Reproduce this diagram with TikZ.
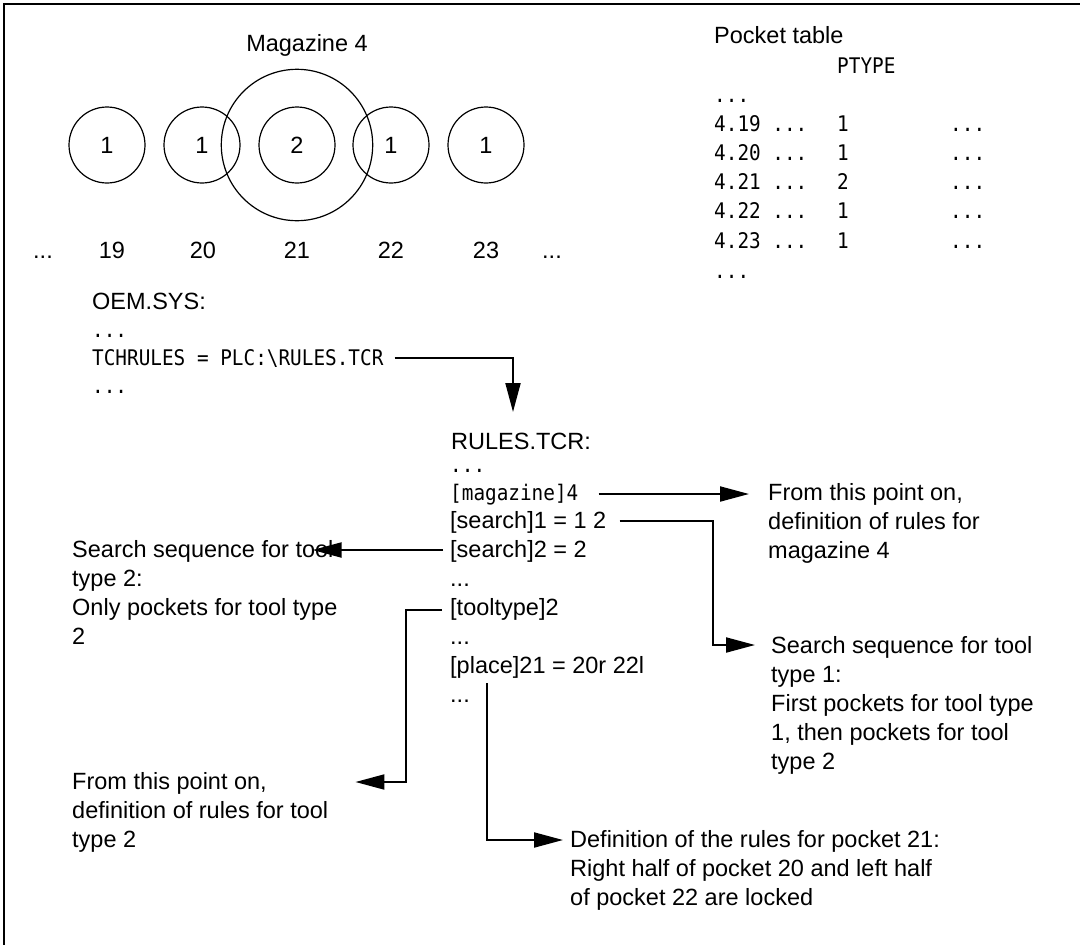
\documentclass[tikz,border=0pt]{standalone}
\usepackage{fontspec}
\setmainfont{Liberation Sans}
\newfontfamily\monof[FakeStretch=0.9]{DejaVu Sans Mono}
\usetikzlibrary{arrows.meta,calc}
\begin{document}
\begin{tikzpicture}[x=1pt,y=-1pt,
  sans/.style={font=\fontsize{23.5}{29}\selectfont, inner sep=0pt, anchor=base west},
  sansc/.style={font=\fontsize{23.5}{29}\selectfont, inner sep=0pt, anchor=base},
  mono/.style={font=\monof\fontsize{21.5}{29}\selectfont, inner sep=0pt, anchor=base west},
  pocket/.style={circle, draw, line width=1.2pt, minimum size=76pt, inner sep=0pt, font=\fontsize{23.5}{29}\selectfont},
  conn/.style={line width=2pt, line join=miter, -{Triangle[length=29pt,width=15pt]}},
]
\useasboundingbox (0,0) rectangle (1080,945);
\draw[line width=2.5pt] (4,945) -- (4,4) -- (1080,4);

% magazine
\node[sansc] (magt) at (307,51) {Magazine 4};
\node[circle, draw, line width=1.2pt, minimum size=151.4pt, inner sep=0pt] (big) at (297,145) {};
\node[pocket] (p19) at (107,145) {1};
\node[pocket] (p20) at (202,145) {1};
\node[pocket] (p21) at (297,145) {2};
\node[pocket] (p22) at (391,145) {1};
\node[pocket] (p23) at (486,145) {1};
\node[sansc] (nd1) at (43,258) {...};
\node[sansc] (n19) at (112,258) {19};
\node[sansc] (n20) at (203,258) {20};
\node[sansc] (n21) at (297,258) {21};
\node[sansc] (n22) at (391,258) {22};
\node[sansc] (n23) at (486,258) {23};
\node[sansc] (nd2) at (552,258) {...};

% pocket table
\node[sans] (ptab) at (714,43) {Pocket table};
\node[mono] (ptype) at (837,73) {PTYPE};
\node[mono] (pd0) at (714,102) {...};
\node[mono] (r19) at (714,131) {4.19 ...};
\node[mono] (t19) at (837,131) {1};
\node[mono] (e19) at (950,131) {...};
\node[mono] (r20) at (714,160) {4.20 ...};
\node[mono] (t20) at (837,160) {1};
\node[mono] (e20) at (950,160) {...};
\node[mono] (r21) at (714,189) {4.21 ...};
\node[mono] (t21) at (837,189) {2};
\node[mono] (e21) at (950,189) {...};
\node[mono] (r22) at (714,218) {4.22 ...};
\node[mono] (t22) at (837,218) {1};
\node[mono] (e22) at (950,218) {...};
\node[mono] (r23) at (714,248) {4.23 ...};
\node[mono] (t23) at (837,248) {1};
\node[mono] (e23) at (950,248) {...};
\node[mono] (pd1) at (714,278) {...};

% OEM.SYS
\node[sans] (oem) at (92,309) {OEM.SYS:};
\node[mono] (od1) at (92,337) {...};
\node[mono] (tch) at (92,365) {TCHRULES = PLC:\textbackslash RULES.TCR};
\node[mono] (od2) at (92,393) {...};

% RULES.TCR
\node[sans] (rules) at (451,449) {RULES.TCR:};
\node[mono] (rd1) at (450,472) {...};
\node[mono] (mag) at (450,500) {[magazine]4};
\node[sans] (s1) at (450,528) {[search]1 = 1 2};
\node[sans] (s2) at (450,557) {[search]2 = 2};
\node[sans] (rd2) at (450,586) {...};
\node[sans] (tt) at (450,615) {[tooltype]2};
\node[sans] (rd3) at (450,644) {...};
\node[sans] (pl) at (450,673) {[place]21 = 20r 22l};
\node[sans] (rd4) at (450,702) {...};

% explanation blocks
\node[sans] (from1) at (768,500) {\vtop{\hbox{From this point on,}\hbox{definition of rules for}\hbox{magazine 4}}};
\node[sans] (ss1) at (771,653) {\vtop{\hbox{Search sequence for tool}\hbox{type 1:}\hbox{First pockets for tool type}\hbox{1, then pockets for tool}\hbox{type 2}}};
\node[sans] (ls) at (72,557) {\vtop{\hbox{Search sequence for tool}\hbox{type 2:}\hbox{Only pockets for tool type}\hbox{2}}};
\node[sans] (lb) at (72,789) {\vtop{\hbox{From this point on,}\hbox{definition of rules for tool}\hbox{type 2}}};
\node[sans] (def) at (570,847) {\vtop{\hbox{Definition of the rules for pocket 21:}\hbox{Right half of pocket 20 and left half}\hbox{of pocket 22 are locked}}};

% connectors
\coordinate (c1) at (513,412);
\draw[conn] ([xshift=11pt,yshift=7pt]tch.base east) -| (c1);
\draw[conn] ([xshift=20pt,yshift=6pt]mag.base east) -- ([xshift=-19pt,yshift=6pt]from1.base west);
\coordinate (c3) at (713,645);
\draw[conn] ([xshift=13pt,yshift=7pt]s1.base east) -| (c3) -- ([xshift=-16pt,yshift=8pt]ss1.base west);
\draw[conn] ([xshift=-7pt,yshift=7pt]s2.base west) -- ([xshift=-25pt,yshift=7pt]ls.base east);
\coordinate (c5) at (406,782);
\draw[conn] ([xshift=-8pt,yshift=5pt]tt.base west) -| (c5) -- ([xshift=27pt,yshift=7pt]lb.base east);
\draw[conn] ([xshift=37pt,yshift=-10pt]pl.base west) |- ([xshift=-7pt,yshift=7pt]def.base west);
\end{tikzpicture}
\end{document}
